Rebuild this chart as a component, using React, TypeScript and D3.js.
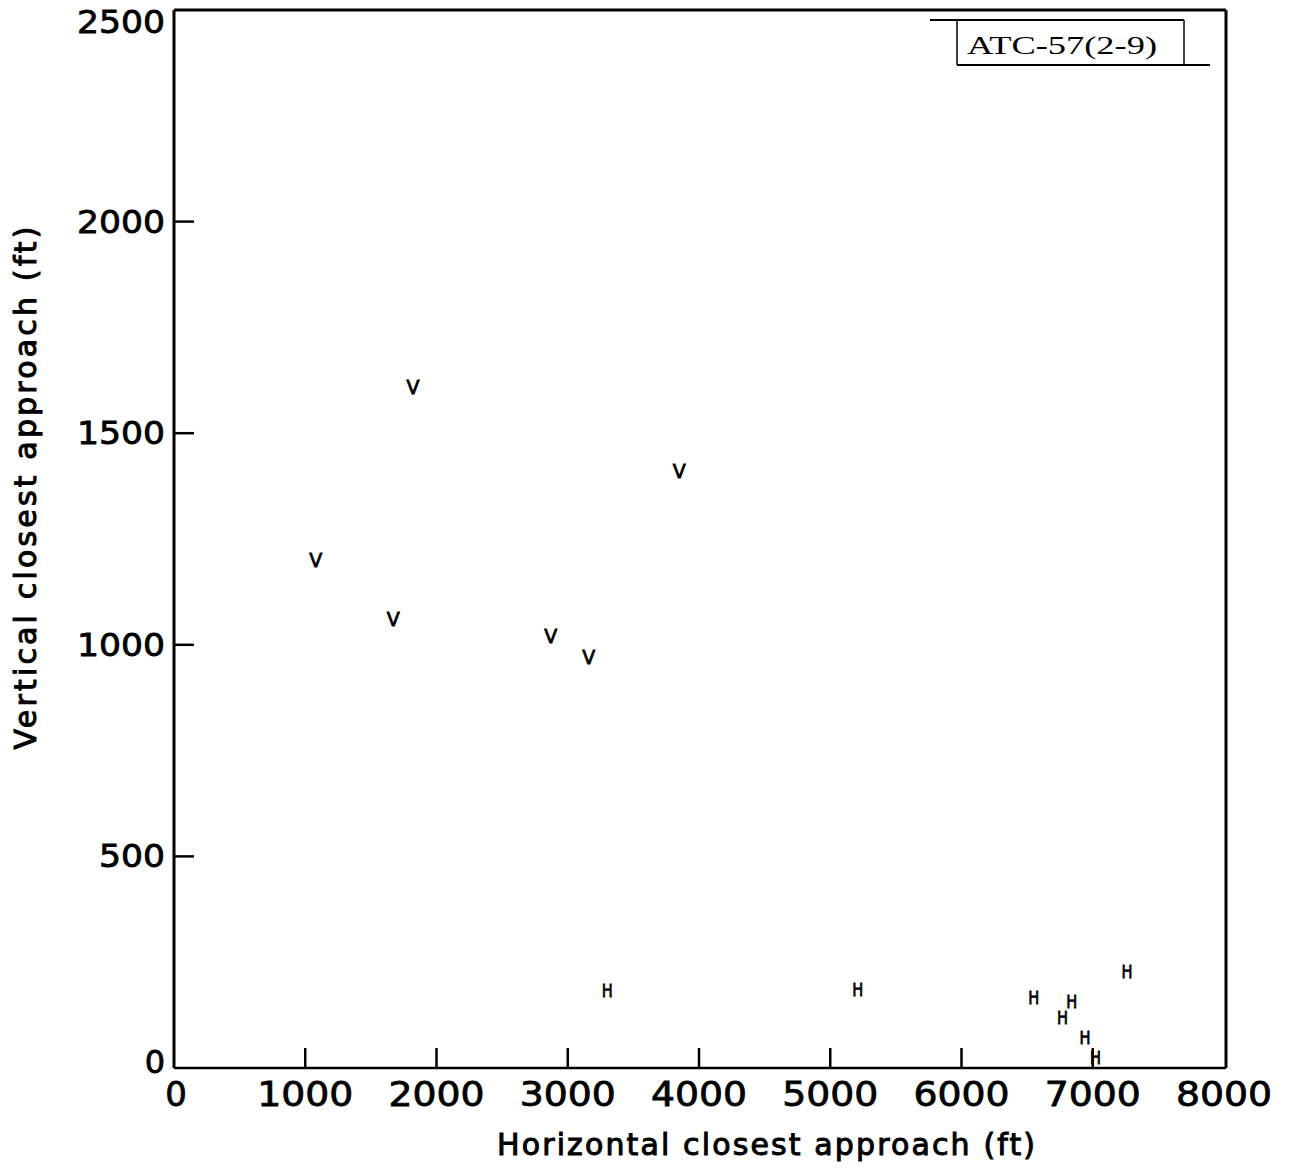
import React from "react";
import * as d3 from "d3";

const vPointsX = [1080, 1670, 1820, 2870, 3160, 3850];
const vPointsY = [1200, 1060, 1610, 1020, 970, 1410];
const hPointsX = [3300, 5210, 6550, 6770, 6840, 6940, 7020, 7260];
const hPointsY = [183, 185, 167, 119, 157, 72, 24, 228];
const xTicks = [0, 1000, 2000, 3000, 4000, 5000, 6000, 7000, 8000];
const yTicks = [0, 500, 1000, 1500, 2000, 2500];
const xTitle = "Horizontal closest approach (ft)";
const yTitle = "Vertical closest approach (ft)";
const boxLabel = "ATC-57(2-9)";

const W = 1291;
const H = 1168;
const left = 174;
const right = 1226;
const top = 10;
const bottom = 1068;

export default function App() {
  const x = d3.scaleLinear().domain([0, 8000]).range([left, 1224]);
  const y = d3.scaleLinear().domain([0, 2500]).range([bottom, top]);
  const font = "'DejaVu Sans', sans-serif";
  return (
    <svg width={W} height={H} style={{ position: "absolute", left: 0, top: 0, background: "#fff" }}>
      <rect x={0} y={0} width={W} height={H} fill="#fff" />
      {/* frame */}
      <line x1={left} y1={top} x2={right} y2={top} stroke="#000" strokeWidth={3} />
      <line x1={left} y1={top} x2={left} y2={bottom} stroke="#000" strokeWidth={3} />
      <line x1={right} y1={top} x2={right} y2={bottom} stroke="#000" strokeWidth={3} />
      <line x1={left} y1={bottom} x2={right} y2={bottom} stroke="#000" strokeWidth={2.5} />
      {/* x ticks */}
      {xTicks.map((t) => (
        <g key={"xt" + t}>
          {t > 0 && t < 8000 && (
            <line x1={x(t)} x2={x(t)} y1={bottom} y2={bottom - 20} stroke="#000" strokeWidth={2.5} />
          )}
          <text x={x(t) + (t === 0 ? 2 : 0)} y={1094} textAnchor="middle" dominantBaseline="central"
            fontFamily={font} fontSize={34} fill="#000" stroke="#000" strokeWidth={0.8}
            textLength={t === 0 ? undefined : 96} lengthAdjust="spacingAndGlyphs">{t}</text>
        </g>
      ))}
      {/* y ticks */}
      {yTicks.map((t) => (
        <g key={"yt" + t}>
          {t > 0 && t < 2500 && (
            <line x1={left} x2={left + 20} y1={y(t)} y2={y(t)} stroke="#000" strokeWidth={2.5} />
          )}
          <text x={165} y={Math.min(Math.max(y(t), top + 12), bottom - 6)} textAnchor="end" dominantBaseline="central"
            fontFamily={font} fontSize={32} fill="#000" stroke="#000" strokeWidth={0.8}
            textLength={t === 0 ? undefined : t < 1000 ? 66 : 88} lengthAdjust="spacingAndGlyphs">{t}</text>
        </g>
      ))}
      {/* titles */}
      <text x={766} y={1144} textAnchor="middle" dominantBaseline="central" fontFamily={font}
        fontSize={30} stroke="#000" strokeWidth={1} textLength={538} lengthAdjust="spacing" fill="#000">{xTitle}</text>
      <text transform={`translate(25, 488) rotate(-90)`} textAnchor="middle" dominantBaseline="central" fontFamily={font}
        fontSize={30} stroke="#000" strokeWidth={1} textLength={523} lengthAdjust="spacing" fill="#000">{yTitle}</text>
      {/* label box */}
      <line x1={930} y1={20} x2={1184} y2={20} stroke="#000" strokeWidth={2} />
      <line x1={957} y1={20} x2={957} y2={65} stroke="#000" strokeWidth={1.5} />
      <line x1={1184} y1={20} x2={1184} y2={65} stroke="#000" strokeWidth={1.5} />
      <line x1={957} y1={65} x2={1210} y2={65} stroke="#000" strokeWidth={2} />
      <text x={1062} y={45} textAnchor="middle" dominantBaseline="central" fontFamily="'Liberation Serif', serif"
        fontSize={25} textLength={190} lengthAdjust="spacingAndGlyphs" fill="#000">{boxLabel}</text>
      {/* points */}
      {vPointsX.map((v, i) => (
        <text key={"v" + i} x={x(v)} y={y(vPointsY[i])} textAnchor="middle" dominantBaseline="central"
          fontFamily={font} fontSize={19} stroke="#000" strokeWidth={0.8} fill="#000">V</text>
      ))}
      {hPointsX.map((v, i) => (
        <text key={"h" + i} x={x(v)} y={y(hPointsY[i])} textAnchor="middle" dominantBaseline="central"
          fontFamily={font} fontSize={18} stroke="#000" strokeWidth={0.8} fill="#000"
          textLength={11} lengthAdjust="spacingAndGlyphs">H</text>
      ))}
    </svg>
  );
}
